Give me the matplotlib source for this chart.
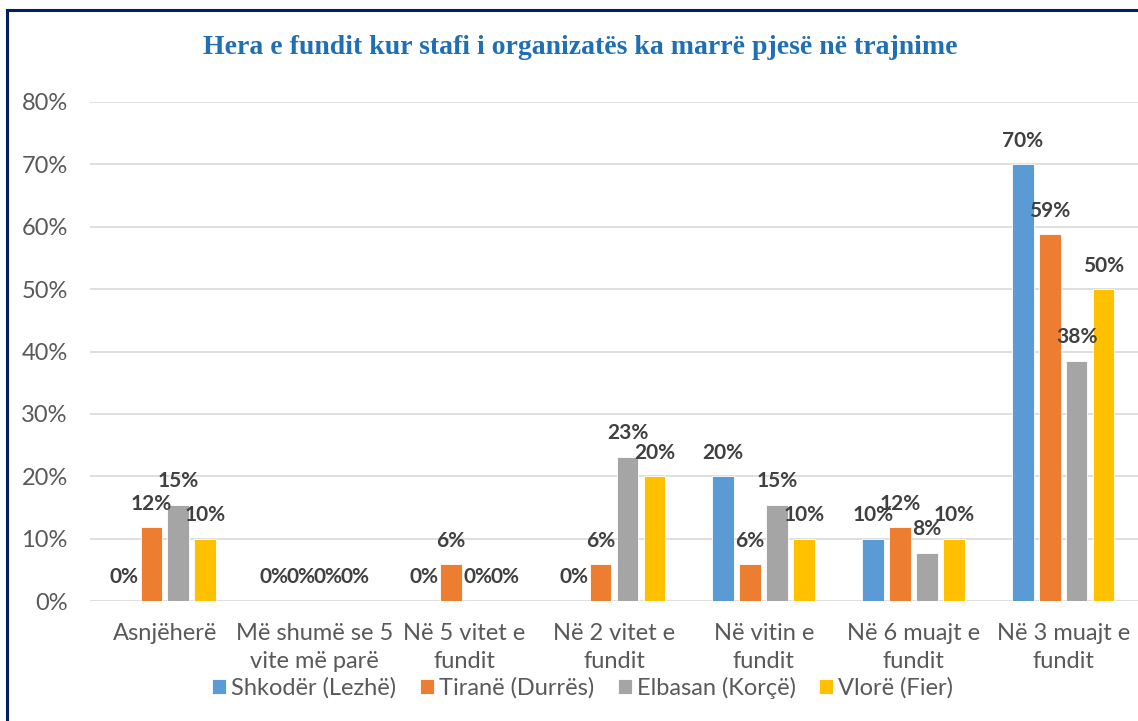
import numpy as np
import matplotlib.pyplot as plt
from matplotlib.lines import Line2D

plt.rcParams['font.family'] = ['Lato', 'DejaVu Sans']

# data
categories = ["Asnjëherë", "Më shumë se 5\nvite më parë", "Në 5 vitet e\nfundit",
              "Në 2 vitet e\nfundit", "Në vitin e\nfundit", "Në 6 muajt e\nfundit",
              "Në 3 muajt e\nfundit"]
series = ["Shkodër (Lezhë)", "Tiranë (Durrës)", "Elbasan (Korçë)", "Vlorë (Fier)"]
shkoder = [0, 0, 0, 0, 20, 10, 70]
tirane = [11.8, 0, 5.9, 5.9, 5.9, 11.8, 58.8]
elbasan = [15.4, 0, 0, 23.1, 15.4, 7.7, 38.5]
vlore = [10, 0, 0, 20, 10, 10, 50]
colors = ["#5B9BD5", "#ED7D31", "#A5A5A5", "#FFC000"]

fig = plt.figure(figsize=(11.38, 7.21), dpi=100)
ax = fig.add_axes([90/1138, 1-601/721, 1-90/1138, (601-102)/721])

x = np.arange(len(categories))
w = 0.145
step = 0.18
for i, vals in enumerate([shkoder, tirane, elbasan, vlore]):
    pos = x + (i - 1.5) * step
    ax.bar(pos, vals, w, color=colors[i], edgecolor="white", linewidth=0.6, zorder=3, label=series[i])
    for px, v in zip(pos, vals):
        ax.annotate(f"{round(v)}%", (px, v), xytext=(0, 17), textcoords="offset points",
                    ha="center", va="center", fontsize=15, fontweight="bold", color="#404040", zorder=4)

ax.set_xlim(-0.5, len(categories) - 0.5)
ax.set_ylim(0, 80)
ax.set_yticks(np.arange(0, 81, 10))
ax.set_yticklabels([f"{t}%" for t in range(0, 81, 10)])
ax.set_xticks(x)
ax.set_xticklabels(categories, linespacing=1.4)
ax.tick_params(axis="both", length=0, labelsize=17, labelcolor="#595959")
ax.tick_params(axis="y", pad=16)
ax.tick_params(axis="x", pad=16)
ax.grid(axis="y", color="#D9D9D9", linewidth=1.2, zorder=0)
for s in ax.spines.values():
    s.set_visible(False)

fig.text(0.51, 1-47/721, "Hera e fundit kur stafi i organizatës ka marrë pjesë në trajnime",
         ha="center", va="center", fontsize=20, fontweight="bold", color="#1F6FB5",
         family="Liberation Serif")

fig.legend(loc="center", bbox_to_anchor=(0.512, 1-688/721), ncol=4, frameon=False,
           fontsize=17, labelcolor="#595959", handlelength=0.6, handleheight=0.6,
           handletextpad=0.2, columnspacing=1.0)

# frame around the chart
fig.add_artist(Line2D([7/1138, 7/1138], [0, 1-10/721], color="#002060", linewidth=2.2))
fig.add_artist(Line2D([7/1138, 1], [1-10/721, 1-10/721], color="#002060", linewidth=2.2))

fig.savefig("out.png", dpi=100)
